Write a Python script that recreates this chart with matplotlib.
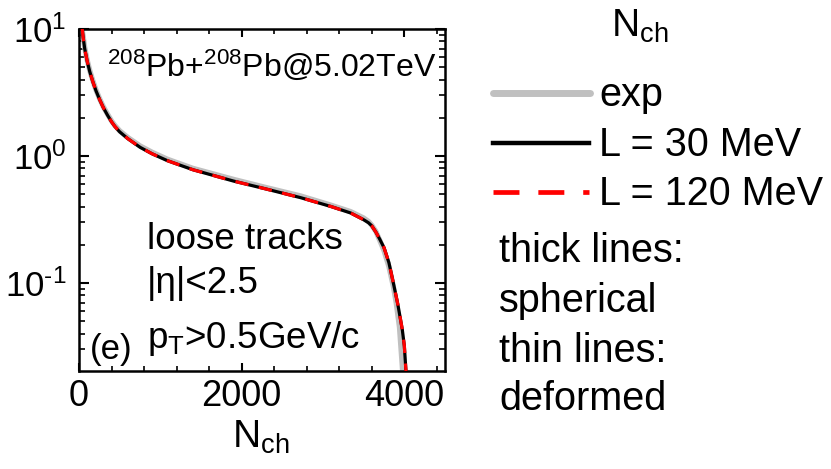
import matplotlib
matplotlib.use("Agg")
import matplotlib.pyplot as plt
from matplotlib.lines import Line2D
from matplotlib.ticker import LogLocator, MultipleLocator, NullFormatter

plt.rcParams["font.family"] = ["Liberation Sans", "DejaVu Sans"]
plt.rcParams["mathtext.fontset"] = "custom"
plt.rcParams["mathtext.rm"] = "Liberation Sans"
plt.rcParams["mathtext.it"] = "Liberation Sans:italic"
plt.rcParams["mathtext.bf"] = "Liberation Sans:bold"

# Multiplicity distribution P(N_ch) (arbitrary normalisation)
n_exp = [30, 50, 70, 100, 133, 170, 210, 256, 300, 350, 400, 441, 500, 600, 752,
         900, 1085, 1400, 1900, 2300, 2725, 3100, 3340, 3500, 3560, 3600, 3650,
         3700, 3750, 3810, 3865, 3900, 3940, 3975, 3995]
p_exp = [10.5, 8.9, 7.15, 5.7, 4.7, 3.92, 3.3, 2.8, 2.44, 2.14, 1.89, 1.74, 1.58,
         1.40, 1.20, 1.07, 0.945, 0.80, 0.655, 0.565, 0.485, 0.41, 0.365, 0.325,
         0.305, 0.285, 0.255, 0.215, 0.18, 0.135, 0.094, 0.07, 0.045, 0.022, 0.014]

n_model = [38, 50, 70, 100, 133, 170, 210, 256, 300, 350, 400, 441, 500, 600, 752,
           900, 1085, 1400, 1900, 2300, 2725, 3100, 3340, 3500, 3560, 3600, 3650,
           3700, 3750, 3810, 3865, 3920, 3975, 4000, 4020, 4045]
p_l30 = [10.2, 8.7, 7.0, 5.6, 4.6, 3.85, 3.25, 2.76, 2.40, 2.10, 1.86, 1.71, 1.55,
         1.37, 1.17, 1.04, 0.92, 0.78, 0.635, 0.55, 0.47, 0.40, 0.356, 0.315,
         0.298, 0.282, 0.252, 0.22, 0.19, 0.145, 0.10, 0.068, 0.043, 0.032,
         0.0203, 0.012]
p_l120 = list(p_l30)

x_ticks = [0, 2000, 4000]
y_ticks = [0.1, 1, 10]
y_tick_labels = [r"$10^{\text{-}1}$", r"$10^{0}$", r"$10^{1}$"]

fig = plt.figure(figsize=(8.31, 4.69), dpi=100)
ax = fig.add_axes([79 / 831, 1 - 371 / 469, 366 / 831, 342 / 469])

ax.plot(n_exp, p_exp, color="#c0c0c0", lw=3.8, solid_capstyle="round", zorder=2)
ax.plot(n_model, p_l30, color="black", lw=2.3, zorder=3)
ax.plot(n_model, p_l120, color="#ff0000", lw=2.3, linestyle=(0, (4.2, 3.3)), zorder=4)

ax.set_yscale("log")
ax.set_xlim(0, 4500)
ax.set_ylim(0.0203, 10)
ax.set_xticks(x_ticks)
ax.xaxis.set_minor_locator(MultipleLocator(400))
ax.set_yticks(y_ticks, labels=y_tick_labels)
ax.yaxis.set_minor_locator(LogLocator(base=10, subs=range(2, 10), numticks=20))
ax.yaxis.set_minor_formatter(NullFormatter())
ax.tick_params(axis="both", which="both", direction="in", top=True, right=True,
               colors="black")
ax.tick_params(axis="x", labelsize=26)
ax.tick_params(axis="y", labelsize=25)
ax.tick_params(axis="y", which="major", length=7.5, width=1.5, pad=9)
ax.tick_params(axis="y", which="minor", length=4, width=1.2)
ax.tick_params(axis="x", which="major", length=5.5, width=1.5, pad=6)
ax.tick_params(axis="x", which="minor", length=3.5, width=1.2)
for s in ax.spines.values():
    s.set_linewidth(1.8)

ax.text(0.077, 0.862, r"$^{208}$Pb+$^{208}$Pb@5.02TeV", transform=ax.transAxes,
        fontsize=23, ha="left", va="baseline")
ax.text(0.186, 0.356, "loose tracks", transform=ax.transAxes,
        fontsize=26.5, ha="left", va="baseline")
ax.text(0.186, 0.229, "|η|<2.5", transform=ax.transAxes,
        fontsize=26.5, ha="left", va="baseline")
ax.text(0.186, 0.068, r"p$_\mathrm{T}$>0.5GeV/c", transform=ax.transAxes,
        fontsize=26.5, ha="left", va="baseline")
ax.text(0.030, 0.036, "(e)", transform=ax.transAxes,
        fontsize=25, ha="left", va="baseline")

# axis title below the frame and header of the key
fig.text(261 / 831, 1 - 448 / 469, r"N$_\mathrm{ch}$", fontsize=28,
         ha="center", va="baseline")
fig.text(640 / 831, 1 - 37 / 469, r"N$_\mathrm{ch}$", fontsize=28,
         ha="center", va="baseline")

# key
def px(x, y):
    return x / 831, 1 - y / 469

keys = [
    ("exp", dict(color="#c0c0c0", lw=5.0, solid_capstyle="round"), 93, 590),
    ("L = 30 MeV", dict(color="black", lw=3.2), 143, 589),
    ("L = 120 MeV", dict(color="#ff0000", lw=3.4, linestyle=(0, (5.5, 4.0))), 192, 589),
]
for label, style, yk, xend in keys:
    (x0, y0), (x1, _) = px(493, yk), px(xend, yk)
    fig.add_artist(Line2D([x0, x1], [y0, y0], transform=fig.transFigure, **style))
    tx, ty = px(599, yk + 13)
    fig.text(tx, ty, label, fontsize=28.5, ha="left", va="baseline")

for label, yb in [("thick lines:", 262), ("spherical", 312),
                  ("thin lines:", 362), ("deformed", 410)]:
    tx, ty = px(499, yb)
    fig.text(tx, ty, label, fontsize=28.5, ha="left", va="baseline")

fig.savefig("out.png", dpi=100)
